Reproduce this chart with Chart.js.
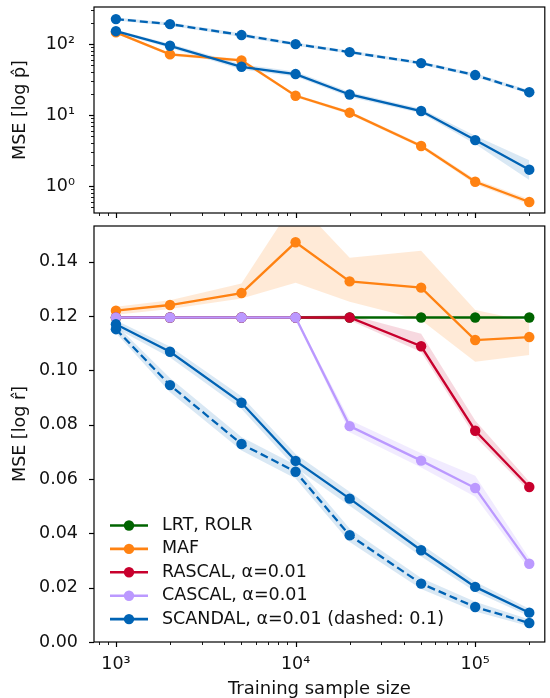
<!DOCTYPE html>
<html>
<head>
<meta charset="utf-8">
<script src="https://cdn.jsdelivr.net/npm/chart.js@4.4.0/dist/chart.umd.min.js"></script>
<style>
  body { margin: 0; background: #fff; }
  #wrap { position: relative; width: 550px; height: 698px; }
  #top { position: absolute; left: 0; top: 0; }
  #bot { position: absolute; left: 0; top: 220px; }
</style>
</head>
<body>
<div id="wrap">
  <canvas id="top" width="550" height="222"></canvas>
  <canvas id="bot" width="550" height="478"></canvas>
</div>
<script>
// training sample sizes (x)
const sizes = [1000, 2000, 5000, 10000, 20000, 50000, 100000, 200000];
const xTicks = [1e3, 1e4, 1e5];
const pTicks = [1, 10, 100];
const rTicks = [0, 0.02, 0.04, 0.06, 0.08, 0.10, 0.12, 0.14];

// top panel: MSE[log p]
const pMaf = [146, 71.6, 58.9, 18.7, 10.8, 3.66, 1.15, 0.596];
const pMafLo = [140, 68, 56, 17.8, 10.2, 3.45, 1.06, 0.55];
const pMafHi = [152, 75, 62, 19.7, 11.4, 3.9, 1.25, 0.65];
const pScandal = [152, 94.6, 47.9, 37.8, 19.5, 11.4, 4.44, 1.7];
const pScandalLo = [145, 88, 44, 35, 18, 10.6, 3.9, 1.22];
const pScandalHi = [159, 101, 52, 41, 21.2, 12.3, 5.1, 2.3];
const pScandal01 = [225, 191, 134, 100, 77, 54, 36.6, 21];
const pScandal01Lo = [215, 181, 126, 95, 73, 51, 34.5, 19.8];
const pScandal01Hi = [236, 201, 142, 105, 81, 57, 38.8, 22.3];

// bottom panel: MSE[log r]
const rLrt = [0.1195, 0.1195, 0.1195, 0.1195, 0.1195, 0.1195, 0.1195, 0.1195];
const rMaf = [0.1220, 0.1241, 0.1285, 0.1472, 0.1328, 0.1305, 0.1112, 0.1123];
const rMafLo = [0.1205, 0.1226, 0.1265, 0.1323, 0.1253, 0.1186, 0.1032, 0.1057];
const rMafHi = [0.1235, 0.1259, 0.1320, 0.1626, 0.1415, 0.1441, 0.1223, 0.1180];
const rRascal = [0.1195, 0.1195, 0.1195, 0.1195, 0.1195, 0.1089, 0.0778, 0.0571];
const rRascalLo = [0.1190, 0.1190, 0.1190, 0.1190, 0.1185, 0.1068, 0.0756, 0.0555];
const rRascalHi = [0.1200, 0.1200, 0.1200, 0.1200, 0.1205, 0.1135, 0.0816, 0.0590];
const rCascal = [0.1195, 0.1195, 0.1195, 0.1195, 0.0795, 0.0668, 0.0567, 0.0288];
const rCascalLo = [0.1190, 0.1190, 0.1190, 0.1190, 0.0772, 0.0643, 0.0535, 0.0268];
const rCascalHi = [0.1200, 0.1200, 0.1200, 0.1200, 0.0818, 0.0695, 0.0612, 0.0308];
const rScandal = [0.1170, 0.1069, 0.0881, 0.0667, 0.0528, 0.0338, 0.0203, 0.0108];
const rScandalLo = [0.1155, 0.1048, 0.0858, 0.0642, 0.0502, 0.0315, 0.0185, 0.0095];
const rScandalHi = [0.1185, 0.1088, 0.0905, 0.0692, 0.0553, 0.0360, 0.0222, 0.0122];
const rScandal01 = [0.1152, 0.0946, 0.0729, 0.0627, 0.0393, 0.0215, 0.0129, 0.0070];
const rScandal01Lo = [0.1138, 0.0920, 0.0705, 0.0602, 0.0368, 0.0195, 0.0112, 0.0058];
const rScandal01Hi = [0.1168, 0.0972, 0.0755, 0.0652, 0.0418, 0.0236, 0.0148, 0.0083];

const names = ['LRT, ROLR', 'MAF', 'RASCAL, α=0.01', 'CASCAL, α=0.01', 'SCANDAL, α=0.01 (dashed: 0.1)'];
const colors = ['#006400', '#ff8212', '#c8002d', '#bb99ff', '#0063b4'];
const bands = ['rgba(0,100,0,0.15)', 'rgba(255,130,18,0.17)', 'rgba(200,0,45,0.15)', 'rgba(187,153,255,0.2)', 'rgba(0,99,180,0.15)'];

Chart.defaults.font.family = 'DejaVu Sans';
Chart.defaults.font.size = 17.5;
Chart.defaults.color = '#111';

const pts = vals => sizes.map((x, i) => ({ x: x, y: vals[i] }));

function line(vals, c, dash, order) {
  return {
    data: pts(vals), borderColor: colors[c], backgroundColor: colors[c],
    borderWidth: 2.3, borderDash: dash || [], pointRadius: 5.2, pointHoverRadius: 5.2,
    pointBorderWidth: 0, fill: false, order: order
  };
}
function band(lo, hi, c) {
  return [
    { data: pts(hi), borderWidth: 0, pointRadius: 0, fill: '+1', backgroundColor: bands[c], order: 100 },
    { data: pts(lo), borderWidth: 0, pointRadius: 0, fill: false, order: 100 }
  ];
}

const sup = { '0': '⁰', '1': '¹', '2': '²', '3': '³', '4': '⁴', '5': '⁵' };
const powLabel = v => '10' + String(Math.round(Math.log10(v))).split('').map(d => sup[d]).join('');

function logMarks(min, max) {
  const out = [];
  for (let e = Math.floor(Math.log10(min)); e <= Math.ceil(Math.log10(max)); e++) {
    for (let k = 1; k < 10; k++) {
      const v = k * Math.pow(10, e);
      if (v >= min && v <= max) out.push([v, k === 1]);
    }
  }
  return out;
}

// fixed axis boxes so both panels line up
function fixBox(size) {
  return s => {
    if (s.isHorizontal()) s.height = size; else s.width = size;
    s.paddingTop = 0; s.paddingBottom = 0; s.paddingLeft = 0; s.paddingRight = 0;
  };
}

// box and tick marks like matplotlib
const frameTicks = {
  id: 'frameTicks',
  afterDraw(chart) {
    const ctx = chart.ctx, a = chart.chartArea;
    ctx.save();
    ctx.strokeStyle = '#000';
    const xs = chart.scales.x, ys = chart.scales.y;
    logMarks(xs.min, xs.max).forEach(([v, major]) => {
      const px = Math.round(xs.getPixelForValue(v)) + 0.5;
      ctx.lineWidth = major ? 1.2 : 0.9;
      ctx.beginPath(); ctx.moveTo(px, a.bottom); ctx.lineTo(px, a.bottom + (major ? 5 : 3)); ctx.stroke();
    });
    const yMarks = ys.type === 'logarithmic' ? logMarks(ys.min, ys.max) : rTicks.map(v => [v, true]);
    yMarks.forEach(([v, major]) => {
      const py = Math.round(ys.getPixelForValue(v)) + 0.5;
      ctx.lineWidth = major ? 1.2 : 0.9;
      ctx.beginPath(); ctx.moveTo(a.left, py); ctx.lineTo(a.left - (major ? 5 : 3), py); ctx.stroke();
    });
    ctx.lineWidth = 1.2;
    ctx.strokeRect(a.left, a.top, a.right - a.left, a.bottom - a.top);
    ctx.restore();
  }
};

const lineLegend = {
  id: 'lineLegend',
  afterDraw(chart) {
    const ctx = chart.ctx;
    ctx.save();
    ctx.font = '17.5px "DejaVu Sans"';
    ctx.textBaseline = 'middle';
    names.forEach((n, i) => {
      const y = 305.5 + i * 23.4;
      ctx.strokeStyle = colors[i]; ctx.fillStyle = colors[i]; ctx.lineWidth = 2.6;
      ctx.beginPath(); ctx.moveTo(110, y); ctx.lineTo(148, y); ctx.stroke();
      ctx.beginPath(); ctx.arc(129, y, 5.2, 0, Math.PI * 2); ctx.fill();
      ctx.fillStyle = '#111';
      ctx.fillText(n, 162, y);
    });
    ctx.restore();
  }
};

const xMin = 755, xMax = 244000;

new Chart(document.getElementById('top'), {
  type: 'line',
  data: {
    datasets: [
      line(pScandal, 4, [], 1),
      line(pScandal01, 4, [8, 4], 2),
      line(pMaf, 1, [], 3),
      ...band(pScandalLo, pScandalHi, 4),
      ...band(pScandal01Lo, pScandal01Hi, 4),
      ...band(pMafLo, pMafHi, 1)
    ]
  },
  options: {
    responsive: false, animation: false,
    layout: { padding: { top: 7, right: 2, left: 0, bottom: 0 } },
    plugins: { legend: { display: false }, tooltip: { enabled: false } },
    scales: {
      x: {
        type: 'logarithmic', min: xMin, max: xMax,
        grid: { display: false }, border: { display: false },
        ticks: { display: false },
        afterFit: fixBox(9)
      },
      y: {
        type: 'logarithmic', min: 0.417, max: 333,
        grid: { display: false }, border: { display: false },
        afterBuildTicks: s => { s.ticks = pTicks.map(v => ({ value: v })); },
        ticks: { padding: 11, callback: v => powLabel(v) },
        title: { display: true, text: 'MSE [log p̂]', font: { size: 17.5 }, padding: { top: 10, bottom: 0 } },
        afterFit: fixBox(94)
      }
    }
  },
  plugins: [frameTicks]
});

new Chart(document.getElementById('bot'), {
  type: 'line',
  data: {
    datasets: [
      line(rScandal, 4, [], 1),
      line(rScandal01, 4, [8, 4], 2),
      line(rCascal, 3, [], 3),
      line(rRascal, 2, [], 4),
      line(rMaf, 1, [], 5),
      line(rLrt, 0, [], 6),
      ...band(rScandalLo, rScandalHi, 4),
      ...band(rScandal01Lo, rScandal01Hi, 4),
      ...band(rCascalLo, rCascalHi, 3),
      ...band(rRascalLo, rRascalHi, 2),
      ...band(rMafLo, rMafHi, 1)
    ]
  },
  options: {
    responsive: false, animation: false,
    layout: { padding: { top: 6, right: 2, left: 0, bottom: 0 } },
    plugins: { legend: { display: false }, tooltip: { enabled: false } },
    scales: {
      x: {
        type: 'logarithmic', min: xMin, max: xMax,
        grid: { display: false }, border: { display: false },
        afterBuildTicks: s => { s.ticks = xTicks.map(v => ({ value: v })); },
        ticks: { padding: 4, maxRotation: 0, autoSkip: false, callback: v => powLabel(v) },
        title: { display: true, text: 'Training sample size', font: { size: 18, lineHeight: 1.0 }, padding: { top: 0, bottom: 0 } },
        afterFit: fixBox(56)
      },
      y: {
        type: 'linear', min: 0, max: 0.1532,
        grid: { display: false }, border: { display: false },
        afterBuildTicks: s => { s.ticks = rTicks.map(v => ({ value: v })); },
        ticks: { padding: 8, callback: v => v.toFixed(2) },
        title: { display: true, text: 'MSE [log r̂]', font: { size: 17.5 }, padding: { top: 10, bottom: 0 } },
        afterFit: fixBox(94)
      }
    }
  },
  plugins: [frameTicks, lineLegend]
});
</script>
</body>
</html>
